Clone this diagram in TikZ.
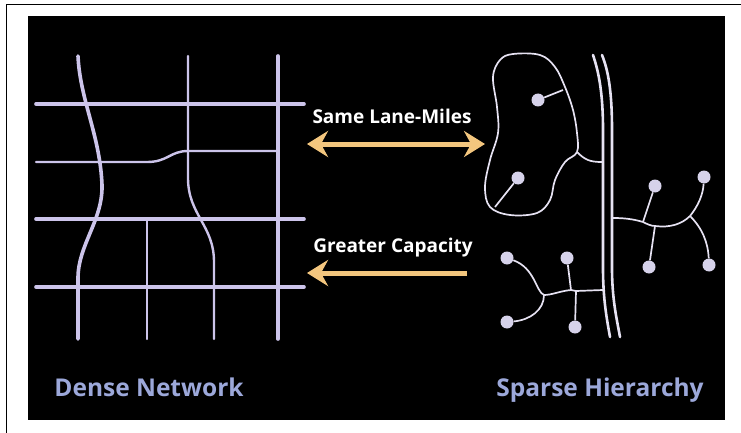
\documentclass[tikz,border=0pt]{standalone}
\definecolor{gridlav}{RGB}{204,196,234}
\definecolor{roadwhite}{RGB}{230,226,242}
\definecolor{dotgray}{RGB}{214,210,234}
\definecolor{arrowgold}{RGB}{243,198,126}
\definecolor{labelblue}{RGB}{156,168,218}
\usepackage{fontspec}
\setmainfont{Open Sans}
\usetikzlibrary{
    arrows.meta,
    positioning,
    calc
}

\begin{document}
\begin{tikzpicture}[x=1pt, y=-1pt,
            >={Stealth[length=21pt, width=26pt, inset=7pt]},
            street/.style={draw=gridlav, line width=3.6pt, line cap=round},
            lane/.style={draw=gridlav, line width=2.4pt, line cap=round},
            highway/.style={draw=roadwhite, line width=2.6pt, line cap=round},
            road/.style={draw=roadwhite, line width=1.7pt},
            house/.style={circle, fill=dotgray, inner sep=0pt, minimum size=13pt},
            flow/.style={draw=arrowgold, fill=arrowgold, line width=5pt},
            arrowtext/.style={font=\bfseries\fontsize{19}{21}\selectfont, text=white, anchor=base},
            heading/.style={font=\bfseries\fontsize{24.5}{26}\selectfont, text=labelblue, anchor=base}]

            % Frame
            \useasboundingbox (0,0) rectangle (741,433);
            \fill[white] (0,0) rectangle (741,433);
            \draw[black, line width=1.3pt] (6.5,433) -- (6.5,4.5) -- (741,4.5);
            \fill[black] (28,16) rectangle (725,420);

            % Dense network
            \draw[street] (36,104) -- (304,104);
            \draw[lane] (36,162) -- (147,162) .. controls (168,162) and (170,151) .. (188,151) -- (278,151);
            \draw[street] (36,219) -- (304,219);
            \draw[street] (36,287) -- (304,287);
            \draw[street] (78,56) .. controls (80,100) and (100,135) .. (102,185)
                .. controls (103,220) and (78,245) .. (78,278) -- (78,339);
            \draw[lane] (188,56) -- (188,178) .. controls (188,215) and (214,225) .. (214,262) -- (214,339);
            \draw[street] (278,56) -- (278,339);
            \draw[lane] (147,219) -- (147,339);

            % Arrows
            \coordinate (sameL) at (307,144);
            \coordinate (sameR) at (485,144);
            \coordinate (capL) at (307,273);
            \coordinate (capR) at (467,273);
            \draw[flow, <->] (sameL) -- (sameR);
            \draw[flow, ->] (capR) -- (capL);
            \node[arrowtext] (same) at (392,124) {Same Lane-Miles};
            \node[arrowtext] (cap) at (393,252) {Greater Capacity};

            % Sparse hierarchy
            \draw[highway] (593,55) .. controls (598,70) and (603,90) .. (603,130) -- (603,268)
                .. controls (603,300) and (607,320) .. (610,337);
            \draw[highway] (602,55) .. controls (608,70) and (612,90) .. (612,130) -- (612,268)
                .. controls (612,300) and (617,320) .. (620,337);
            \draw[road] plot[smooth cycle, tension=0.6] coordinates {
                (513,54) (540,55) (555,67) (565,87) (573,110) (577,133) (577,152)
                (565,162) (555,180) (550,200) (537,213) (510,215) (490,207)
                (485,187) (490,160) (498,133) (497,107) (493,77) (500,60)};
            \coordinate (blobexit) at (577,152);
            \coordinate (hwA) at (602,162);
            \draw[road] (blobexit) .. controls (585,160) and (590,162) .. (hwA);
            \node[house] (pod1) at (538,100) {};
            \node[house] (pod2) at (518,178) {};
            \coordinate (edge1) at (563,90);
            \coordinate (edge2) at (495,207);
            \draw[road] (pod1) -- (edge1);
            \draw[road] (pod2) -- (edge2);

            % Right branch
            \coordinate (hwB) at (613,218);
            \coordinate (j1) at (643,222);
            \coordinate (j2) at (655,226);
            \coordinate (j3) at (690,216);
            \node[house] (r1) at (655,186) {};
            \node[house] (r2) at (649,267) {};
            \node[house] (r3) at (704,177) {};
            \node[house] (r4) at (709,265) {};
            \draw[road] (hwB) .. controls (628,218) and (636,220) .. (j1)
                .. controls (647,224) and (651,226) .. (j2)
                .. controls (670,228) and (682,224) .. (j3);
            \draw[road] (j1) -- (r1);
            \draw[road] (j2) -- (r2);
            \draw[road] (j3) .. controls (698,206) and (703,195) .. (r3);
            \draw[road] (j3) .. controls (702,228) and (708,242) .. (r4);

            % Lower branch
            \coordinate (hwC) at (603,290);
            \coordinate (k1) at (571,290);
            \coordinate (k2) at (576,291);
            \coordinate (k3) at (544,295);
            \node[house] (l1) at (567,258) {};
            \node[house] (l2) at (575,327) {};
            \node[house] (l3) at (507,258) {};
            \node[house] (l4) at (507,322) {};
            \draw[road] (hwC) -- (k2) -- (k1) .. controls (560,291) and (552,295) .. (k3);
            \draw[road] (k1) -- (l1);
            \draw[road] (k2) -- (l2);
            \draw[road] (k3) .. controls (536,292) and (535,268) .. (l3);
            \draw[road] (k3) .. controls (544,310) and (530,320) .. (l4);

            % Labels
            \node[heading] (dense) at (149,396) {Dense Network};
            \node[heading] (sparse) at (600,396) {Sparse Hierarchy};
        \end{tikzpicture}
\end{document}
